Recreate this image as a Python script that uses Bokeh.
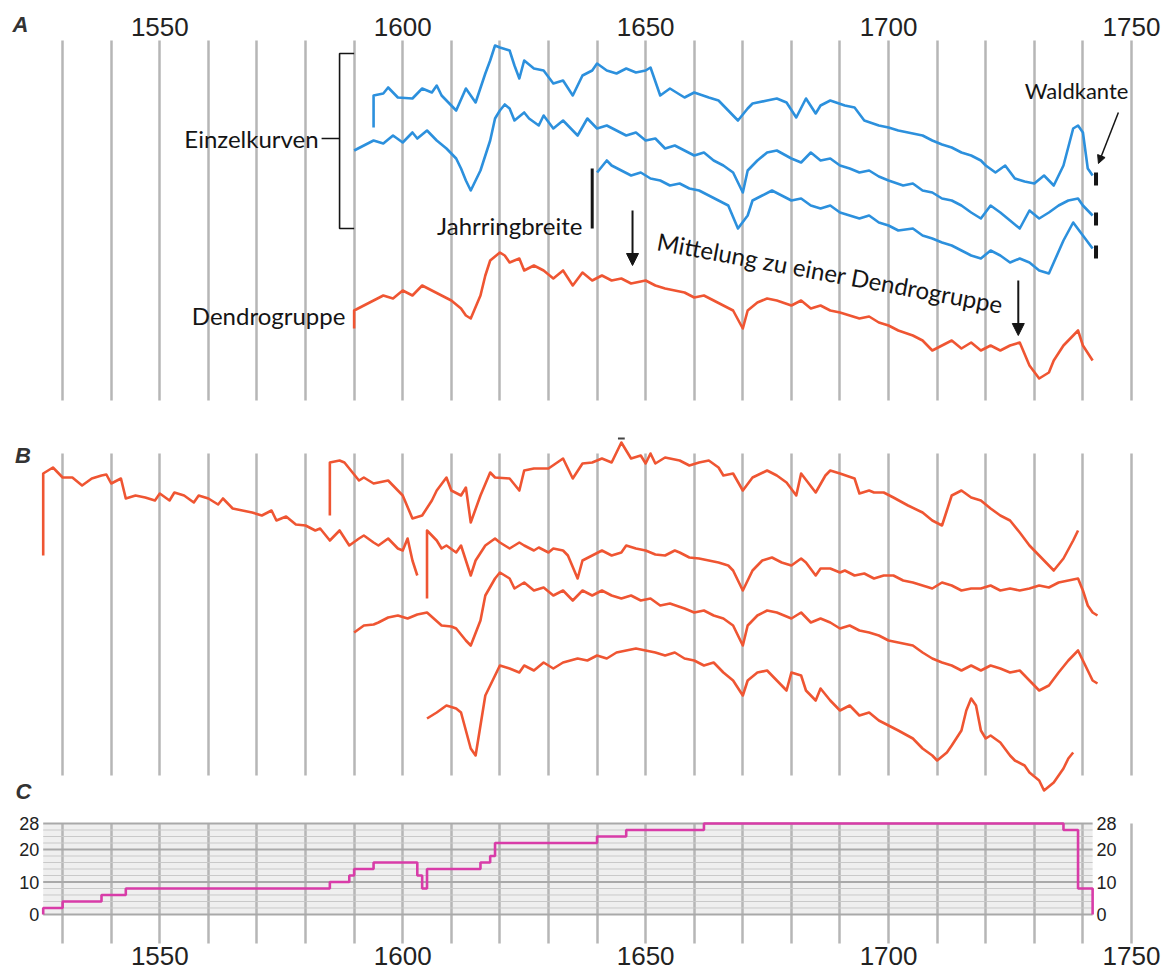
from bokeh.plotting import figure
from bokeh.layouts import column
from bokeh.models import (Range1d, Grid, SingleIntervalTicker, Label,
                          LabelSet, ColumnDataSource, Arrow, NormalHead, BoxAnnotation)
from bokeh.embed import file_html
from bokeh.resources import INLINE
from bokeh.core.properties import value

# ---------------- data ----------------
tick_years = [1550, 1600, 1650, 1700, 1750]
tick_labels = ["1550", "1600", "1650", "1700", "1750"]

# Panel A: single curves (blue) and their mean (red), arbitrary ring-width units
a1_years = [1594, 1594, 1596, 1597, 1599, 1602, 1604, 1606, 1607, 1608, 1610, 1611, 1613, 1615, 1617, 1618,
            1619, 1620, 1622, 1623, 1624, 1625, 1627, 1629, 1631, 1633, 1635, 1637, 1639, 1640, 1642, 1644,
            1646, 1648, 1650, 1651, 1653, 1655, 1658, 1660, 1663, 1665, 1667, 1669, 1671, 1672, 1675, 1677,
            1679, 1681, 1683, 1685, 1686, 1688, 1691, 1693, 1695, 1698, 1700, 1702, 1705, 1707, 1709, 1711,
            1713, 1715, 1717, 1719, 1720, 1722, 1724, 1726, 1728, 1730, 1732, 1734, 1736, 1738, 1739, 1740,
            1741, 1742]
a1_vals = [283, 315, 317, 323, 313, 312, 322, 318, 325, 315, 305, 300, 322, 308, 337, 350,
           365, 363, 360, 345, 332, 350, 342, 340, 327, 330, 315, 335, 340, 347, 340, 337,
           342, 338, 340, 343, 315, 322, 313, 318, 313, 310, 300, 290, 302, 307, 310, 312,
           308, 293, 312, 297, 305, 310, 305, 303, 290, 285, 283, 280, 277, 275, 270, 266,
           263, 258, 255, 250, 245, 238, 245, 232, 229, 227, 235, 225, 245, 282, 285, 278,
           242, 235]

a2_years = [1590, 1592, 1594, 1596, 1598, 1600, 1602, 1603, 1605, 1607, 1609, 1611, 1612, 1613, 1614, 1616,
            1618, 1619, 1620, 1621, 1622, 1623, 1625, 1626, 1628, 1629, 1631, 1633, 1636, 1638, 1640, 1642,
            1644, 1646, 1648, 1650, 1652, 1654, 1656, 1658, 1660, 1662, 1664, 1666, 1668, 1670, 1671, 1673,
            1675, 1677, 1680, 1682, 1684, 1686, 1688, 1690, 1692, 1694, 1696, 1698, 1700, 1703, 1705, 1707,
            1709, 1711, 1713, 1715, 1717, 1719, 1721, 1723, 1725, 1727, 1729, 1731, 1733, 1735, 1737, 1739,
            1740, 1742]
a2_vals = [260, 265, 270, 267, 275, 268, 278, 272, 280, 270, 262, 252, 242, 230, 220, 240,
           270, 292, 300, 306, 302, 290, 298, 292, 285, 295, 282, 290, 275, 292, 282, 285,
           280, 275, 278, 270, 272, 262, 265, 260, 255, 258, 250, 245, 238, 218, 240, 250,
           258, 260, 252, 248, 258, 250, 252, 245, 242, 238, 240, 234, 230, 225, 227, 220,
           218, 212, 210, 205, 198, 192, 205, 198, 190, 182, 200, 192, 198, 205, 210, 212,
           205, 195]

a3_years = [1640, 1642, 1643, 1645, 1647, 1649, 1651, 1653, 1655, 1657, 1659, 1661, 1663, 1665, 1667, 1669,
            1671, 1672, 1674, 1676, 1678, 1680, 1682, 1684, 1686, 1688, 1690, 1692, 1694, 1696, 1698, 1700,
            1702, 1705, 1707, 1709, 1711, 1713, 1715, 1717, 1719, 1721, 1723, 1725, 1727, 1729, 1731, 1733,
            1734, 1736, 1738, 1740, 1742]
a3_vals = [238, 250, 245, 240, 235, 238, 232, 230, 225, 227, 222, 220, 215, 210, 205, 182,
           195, 210, 215, 220, 215, 210, 212, 205, 202, 205, 198, 195, 192, 195, 188, 185,
           180, 182, 175, 172, 168, 165, 160, 155, 152, 160, 155, 148, 152, 148, 140, 137,
           148, 170, 188, 175, 162]

am_years = [1590, 1590, 1592, 1594, 1596, 1598, 1600, 1602, 1604, 1606, 1608, 1610, 1612, 1613, 1614, 1616,
            1617, 1618, 1620, 1621, 1622, 1624, 1625, 1627, 1629, 1631, 1633, 1635, 1637, 1639, 1641, 1643,
            1645, 1647, 1650, 1652, 1654, 1656, 1658, 1660, 1662, 1664, 1666, 1668, 1670, 1671, 1673, 1675,
            1677, 1680, 1682, 1684, 1686, 1688, 1690, 1692, 1694, 1696, 1698, 1700, 1702, 1705, 1707, 1709,
            1711, 1713, 1715, 1717, 1719, 1721, 1723, 1725, 1727, 1729, 1731, 1733, 1734, 1736, 1739, 1740,
            1742]
am_vals = [82, 100, 105, 110, 115, 112, 120, 115, 125, 120, 115, 110, 102, 95, 92, 115,
           135, 150, 158, 155, 148, 152, 140, 145, 140, 132, 140, 125, 138, 130, 135, 130,
           132, 127, 130, 125, 122, 120, 118, 113, 115, 110, 105, 100, 82, 100, 108, 112,
           110, 105, 110, 102, 105, 100, 98, 95, 92, 94, 88, 85, 80, 75, 70, 60,
           65, 70, 62, 68, 60, 65, 60, 65, 68, 45, 32, 38, 50, 65, 80, 65,
           50]

# Panel B: five Dendrogruppen (red)
b1_years = [1526, 1526, 1528, 1530, 1532, 1534, 1536, 1538, 1539, 1540, 1542, 1543, 1545, 1547, 1549, 1550,
            1552, 1553, 1555, 1557, 1558, 1560, 1562, 1563, 1565, 1567, 1569, 1571, 1573, 1574, 1576, 1578,
            1580, 1582, 1583, 1585, 1587, 1589, 1591, 1592, 1594, 1595, 1597, 1599, 1600, 1601, 1602, 1603]
b1_vals = [245, 327, 333, 323, 323, 315, 322, 325, 326, 317, 322, 302, 305, 303, 300, 307,
           300, 308, 305, 298, 305, 302, 296, 302, 292, 290, 288, 285, 290, 280, 284, 276,
           275, 270, 272, 260, 270, 255, 262, 265, 258, 255, 262, 252, 250, 262, 240, 225]

b2_years = [1585, 1585, 1587, 1588, 1589, 1591, 1592, 1594, 1597, 1598, 1600, 1602, 1604, 1606, 1607, 1609,
            1610, 1612, 1613, 1614, 1616, 1618, 1619, 1622, 1624, 1625, 1627, 1630, 1633, 1635, 1637, 1639,
            1641, 1643, 1645, 1647, 1649, 1650, 1651, 1652, 1654, 1657, 1659, 1661, 1663, 1665, 1666, 1668,
            1670, 1672, 1675, 1677, 1679, 1681, 1682, 1685, 1687, 1688, 1690, 1693, 1694, 1696, 1697, 1699,
            1701, 1704, 1707, 1709, 1711, 1712, 1713, 1715, 1717, 1719, 1721, 1723, 1725, 1727, 1729, 1731,
            1733, 1734, 1736, 1738, 1739]
b2_vals = [285, 338, 340, 338, 332, 320, 323, 317, 320, 315, 305, 282, 285, 300, 310, 323,
           310, 305, 313, 278, 305, 328, 323, 322, 310, 330, 332, 332, 342, 322, 337, 338,
           342, 338, 358, 342, 345, 337, 347, 337, 343, 340, 335, 338, 340, 333, 325, 327,
           310, 323, 330, 325, 318, 305, 327, 308, 325, 330, 327, 322, 307, 310, 308, 308,
           303, 295, 288, 280, 275, 290, 305, 310, 303, 300, 292, 285, 280, 268, 255, 245,
           235, 230, 242, 260, 270]

b3_years = [1605, 1605, 1607, 1608, 1609, 1611, 1612, 1613, 1614, 1615, 1617, 1619, 1620, 1622, 1624, 1625,
            1627, 1628, 1630, 1631, 1633, 1634, 1636, 1637, 1639, 1641, 1643, 1645, 1646, 1648, 1650, 1652,
            1654, 1656, 1657, 1659, 1661, 1663, 1665, 1667, 1668, 1670, 1672, 1674, 1676, 1678, 1680, 1682,
            1683, 1685, 1686, 1688, 1690, 1691, 1693, 1695, 1697, 1699, 1701, 1703, 1705, 1707, 1709, 1711,
            1713, 1715, 1717, 1719, 1721, 1723, 1725, 1727, 1729, 1731, 1733, 1735, 1737, 1739, 1740, 1741,
            1742, 1743]
b3_vals = [202, 270, 260, 252, 255, 248, 255, 240, 225, 240, 255, 262, 258, 252, 258, 255,
           250, 253, 248, 252, 250, 245, 222, 240, 245, 250, 245, 248, 255, 252, 250, 246,
           245, 250, 248, 243, 242, 240, 238, 235, 230, 210, 230, 240, 243, 238, 235, 242,
           238, 225, 232, 232, 228, 230, 225, 227, 222, 225, 225, 220, 218, 215, 212, 218,
           215, 210, 212, 212, 215, 210, 212, 210, 212, 215, 213, 218, 220, 222, 210, 195,
           188, 185]

b4_years = [1590, 1592, 1594, 1595, 1597, 1599, 1601, 1603, 1605, 1608, 1610, 1611, 1613, 1614, 1616, 1617,
            1619, 1620, 1622, 1623, 1625, 1627, 1629, 1631, 1633, 1635, 1637, 1639, 1641, 1643, 1645, 1647,
            1649, 1651, 1653, 1655, 1658, 1660, 1662, 1664, 1666, 1668, 1670, 1671, 1673, 1675, 1677, 1680,
            1682, 1684, 1686, 1688, 1690, 1692, 1694, 1696, 1698, 1700, 1702, 1705, 1707, 1709, 1711, 1713,
            1715, 1717, 1719, 1721, 1723, 1725, 1727, 1729, 1731, 1733, 1735, 1737, 1739, 1741, 1742, 1743]
b4_vals = [168, 175, 176, 178, 183, 185, 182, 186, 188, 175, 174, 172, 160, 155, 180, 205,
           222, 228, 222, 212, 218, 210, 213, 205, 210, 200, 210, 205, 210, 205, 202, 205,
           200, 202, 195, 197, 192, 188, 190, 185, 182, 175, 155, 175, 185, 190, 188, 182,
           188, 178, 182, 178, 172, 175, 170, 168, 165, 160, 158, 155, 148, 142, 138, 135,
           130, 135, 130, 135, 132, 128, 130, 120, 110, 115, 128, 140, 150, 130, 120, 117]

b5_years = [1605, 1607, 1609, 1611, 1612, 1613, 1614, 1615, 1616, 1617, 1619, 1620, 1622, 1624, 1625, 1627,
            1629, 1631, 1633, 1636, 1638, 1640, 1642, 1644, 1646, 1648, 1650, 1652, 1654, 1656, 1658, 1660,
            1662, 1664, 1666, 1668, 1670, 1671, 1673, 1675, 1677, 1679, 1680, 1682, 1683, 1685, 1686, 1688,
            1690, 1692, 1694, 1696, 1698, 1700, 1702, 1705, 1707, 1709, 1710, 1712, 1713, 1715, 1716, 1717,
            1718, 1719, 1720, 1721, 1723, 1725, 1726, 1728, 1729, 1731, 1732, 1734, 1735, 1736, 1737, 1738]
b5_vals = [82, 88, 95, 92, 88, 70, 52, 45, 75, 105, 125, 135, 132, 128, 135, 130,
           138, 132, 138, 142, 140, 145, 142, 148, 150, 152, 150, 148, 145, 148, 142, 140,
           135, 138, 128, 120, 105, 120, 128, 130, 120, 110, 128, 125, 110, 100, 112, 100,
           90, 95, 85, 88, 80, 75, 70, 62, 52, 45, 40, 48, 55, 70, 90, 102,
           95, 70, 62, 65, 58, 45, 40, 35, 28, 20, 10, 18, 25, 32, 42, 48]

# Panel C: number of series (sample depth)
c_years = [1526, 1526, 1530, 1538, 1543, 1585, 1589, 1590, 1594, 1603, 1604, 1605, 1616, 1618, 1619,
           1640, 1646, 1662, 1736, 1739, 1742]
c_counts = [0, 2, 4, 6, 8, 10, 12, 14, 16, 12, 8, 14, 16, 18, 22, 24, 26, 28, 26, 8, 0]
c_major = [0, 10, 20, 28]
c_minor = [2, 4, 6, 8, 12, 14, 16, 18, 22, 24, 26]
c_tick_labels = ["0", "10", "20", "28"]

# ---------------- styling ----------------
BLUE = "#2c90dd"
RED = "#ef5532"
MAGENTA = "#d83ca8"
GRID = "#b6b6b6"
INK = "#151515"
NUMFONT = "Liberation Sans"
TXTFONT = "Lato"

W = 1170
xr = Range1d(1517.21, 1758.03)


def make_fig(h, yr, cross):
    p = figure(width=W, height=h, x_range=xr, y_range=yr, output_backend="svg",
               toolbar_location=None, min_border=0,
               x_axis_location=None, y_axis_location=None)
    p.outline_line_color = None
    p.background_fill_color = "white"
    p.border_fill_color = "white"
    for g in p.grid:
        g.visible = False
    g = Grid(dimension=0, ticker=SingleIntervalTicker(interval=10), bounds=(1530, 1750),
             grid_line_color=GRID, grid_line_width=2.5)
    if "cross_bounds" in Grid.properties():
        g.cross_bounds = cross
    p.add_layout(g, "center")
    return p


def panel_label(p, x, y, t):
    p.add_layout(Label(x=x, y=y, text=t, text_font=NUMFONT, text_font_style="bold italic",
                       text_font_size="22px", text_color="#333333",
                       text_align="left", text_baseline="middle"))


def year_labels(p, y):
    src = ColumnDataSource(dict(x=tick_years, y=[y] * len(tick_years), t=tick_labels))
    p.add_layout(LabelSet(x="x", y="y", text="t", source=src, text_align="center",
                          text_baseline="alphabetic", text_font=value(NUMFONT),
                          text_font_size="26px", text_color="#222222"))


def note(p, x, y, t, align="right", size="24px", angle=0.0):
    p.add_layout(Label(x=x, y=y, text=t, text_font=TXTFONT, text_font_size=size,
                       text_color=INK, text_align=align, text_baseline="middle", angle=angle))


def arrow(p, x0, y0, x1, y1, width=2, size=12):
    p.add_layout(Arrow(end=NormalHead(size=size, fill_color=INK, line_color=INK),
                       x_start=x0, y_start=y0, x_end=x1, y_end=y1,
                       line_color=INK, line_width=width))


# ---------------- panel A ----------------
pA = make_fig(425, Range1d(-15, 410), (10, 370))
year_labels(pA, 375)

for xs, ys, c in [(a1_years, a1_vals, BLUE), (a2_years, a2_vals, BLUE),
                  (a3_years, a3_vals, BLUE), (am_years, am_vals, RED)]:
    pA.line(xs, ys, line_color=c, line_width=2.6, line_join="round")

# end-of-series (Waldkante) marks
ends = [a1_vals[-1], a2_vals[-1], a3_vals[-1]]
end_x = a1_years[-1] + 0.7
pA.segment(x0=[end_x] * 3, x1=[end_x] * 3, y0=[e - 10 for e in ends], y1=[e + 3 for e in ends],
           line_color=INK, line_width=4)

panel_label(pA, 1519.7, 386.5, "A")
pA.line([1590, 1587, 1587, 1590], [357, 357, 182, 182], line_color=INK, line_width=1.6)
pA.line([1583.3, 1587], [272, 272], line_color=INK, line_width=1.6)
note(pA, 1582.7, 272, "Einzelkurven")
note(pA, 1637, 185, "Jahrringbreite")
pA.line([1639, 1639], [182, 242], line_color=INK, line_width=3)
arrow(pA, 1647.3, 200, 1647.3, 145)
note(pA, 1688, 138, "Mittelung zu einer Dendrogruppe", align="center", angle=-0.183)
arrow(pA, 1726.7, 130, 1726.7, 75)
note(pA, 1588.2, 95, "Dendrogruppe")
note(pA, 1738.7, 320, "Waldkante", align="center", size="22px")
arrow(pA, 1747.3, 298, 1743.2, 247, width=1.5, size=8)

# ---------------- panel B ----------------
pB = make_fig(380, Range1d(-5, 375), (25, 347))
for xs, ys in [(b1_years, b1_vals), (b2_years, b2_vals), (b3_years, b3_vals),
               (b4_years, b4_vals), (b5_years, b5_vals)]:
    pB.line(xs, ys, line_color=RED, line_width=2.6, line_join="round")
pB.line([1644.3, 1645.7], [362, 362], line_color="#444444", line_width=2)
panel_label(pB, 1520.2, 345, "B")
panel_label(pB, 1520.3, 9, "C")

# ---------------- panel C ----------------
pC = make_fig(166, Range1d(-17.54, 33.54), (-8.92, 28))
pC.add_layout(BoxAnnotation(left=c_years[0], right=c_years[-1], bottom=0, top=c_major[-1],
                            fill_color="#efefef", fill_alpha=1.0, line_color=None, level="image"))
n_min = len(c_minor)
pC.segment(x0=[c_years[0]] * n_min, x1=[c_years[-1]] * n_min, y0=c_minor, y1=c_minor,
           line_color="#c9c9c9", line_width=1)
n_maj = len(c_major)
pC.segment(x0=[c_years[0]] * n_maj, x1=[c_years[-1]] * n_maj, y0=c_major, y1=c_major,
           line_color="#a9a9a9", line_width=2)
pC.step(c_years, c_counts, mode="after", line_color=MAGENTA, line_width=2.6)

left_src = ColumnDataSource(dict(x=[c_years[0]] * n_maj, y=c_major, t=c_tick_labels))
right_src = ColumnDataSource(dict(x=[c_years[-1]] * n_maj, y=c_major, t=c_tick_labels))
for src, al, off in [(left_src, "right", -4), (right_src, "left", 4)]:
    pC.add_layout(LabelSet(x="x", y="y", text="t", source=src, x_offset=off,
                           text_align=al, text_baseline="middle",
                           text_font=value(NUMFONT), text_font_size="18px",
                           text_color="#222222"))
year_labels(pC, -15.5)

layout = column(pA, pB, pC)
open("out.html", "w").write(file_html(layout, INLINE))
